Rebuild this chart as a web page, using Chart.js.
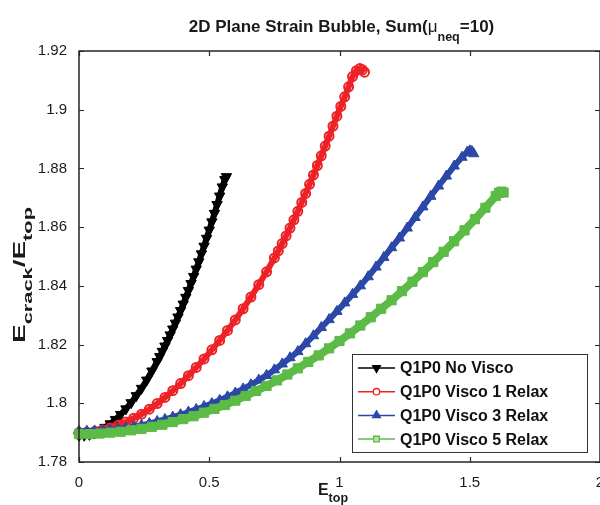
<!DOCTYPE html>
<html>
<head>
<meta charset="utf-8">
<script src="https://cdn.jsdelivr.net/npm/chart.js@4.4.1/dist/chart.umd.min.js"></script>
<style>
  html, body { margin: 0; padding: 0; background: #fff; width: 600px; height: 505px; overflow: hidden; }
  #wrap { position: absolute; left: 0; top: 0; width: 620px; height: 505px; }
</style>
</head>
<body>
<div id="wrap"><canvas id="chart" width="620" height="505"></canvas></div>
<script>
'use strict';

// ── DATA ──
const xTicks = [0, 0.5, 1, 1.5, 2];
const yTicks = [1.78, 1.8, 1.82, 1.84, 1.86, 1.88, 1.9, 1.92];

const seriesNames = ['Q1P0 No Visco', 'Q1P0 Visco 1 Relax', 'Q1P0 Visco 3 Relax', 'Q1P0 Visco 5 Relax'];

const noViscoX = [0, 0.02, 0.04, 0.06, 0.08, 0.10, 0.12, 0.14, 0.16, 0.18, 0.20, 0.22, 0.24, 0.26, 0.28, 0.30,
  0.31, 0.32, 0.33, 0.34, 0.35, 0.36, 0.37, 0.38, 0.39, 0.40, 0.41, 0.42, 0.43, 0.44, 0.45, 0.46, 0.47, 0.48,
  0.49, 0.50, 0.51, 0.52, 0.53, 0.54, 0.55, 0.56, 0.566];
const noViscoY = [1.789, 1.7891, 1.7894, 1.79, 1.7908, 1.7918, 1.793, 1.7945, 1.7962, 1.7981, 1.8002, 1.8026, 1.8051, 1.8079, 1.811, 1.8142,
  1.8159, 1.8177, 1.8195, 1.8214, 1.8233, 1.8253, 1.8273, 1.8294, 1.8316, 1.8338, 1.8361, 1.8384, 1.8408, 1.8432, 1.8457, 1.8482, 1.8509, 1.8535,
  1.8562, 1.859, 1.8618, 1.8647, 1.8677, 1.8706, 1.8737, 1.8762, 1.8772];

const visco1X = [0, 0.03, 0.06, 0.09, 0.12, 0.15, 0.18, 0.21, 0.24, 0.27, 0.30, 0.33, 0.36, 0.39, 0.42, 0.45, 0.48,
  0.51, 0.54, 0.57, 0.60, 0.63, 0.66, 0.69, 0.72, 0.75, 0.765, 0.78, 0.795, 0.81, 0.825, 0.84, 0.855, 0.87, 0.885,
  0.90, 0.915, 0.93, 0.945, 0.96, 0.975, 0.99, 1.005, 1.02, 1.035, 1.05, 1.065, 1.078, 1.088, 1.096];
const visco1Y = [1.79, 1.7901, 1.7904, 1.7909, 1.7916, 1.7925, 1.7936, 1.7949, 1.7963, 1.798, 1.7999, 1.802, 1.8043, 1.8067, 1.8094, 1.8122, 1.8151,
  1.8182, 1.8214, 1.8248, 1.8284, 1.8322, 1.8362, 1.8404, 1.8448, 1.8495, 1.8519, 1.8544, 1.8570, 1.8597, 1.8625, 1.8654, 1.8684, 1.8715, 1.8746,
  1.8778, 1.8810, 1.8843, 1.8876, 1.8910, 1.8944, 1.8978, 1.9011, 1.9044, 1.9078, 1.9113, 1.9133, 1.914, 1.9136, 1.9128];

const visco3X = [0, 0.03, 0.06, 0.09, 0.12, 0.15, 0.18, 0.21, 0.24, 0.27, 0.30, 0.33, 0.36, 0.39, 0.42, 0.45, 0.48,
  0.51, 0.54, 0.57, 0.60, 0.63, 0.66, 0.69, 0.72, 0.75, 0.78, 0.81, 0.84, 0.87, 0.90, 0.93, 0.96, 0.99, 1.02, 1.05,
  1.08, 1.11, 1.14, 1.17, 1.20, 1.23, 1.26, 1.29, 1.32, 1.35, 1.38, 1.41, 1.44, 1.47, 1.49, 1.50, 1.508, 1.515];
const visco3Y = [1.7905, 1.7905, 1.7906, 1.7907, 1.7909, 1.7912, 1.7915, 1.792, 1.7925, 1.7931, 1.7938, 1.7945, 1.7953, 1.7961, 1.797, 1.7979, 1.7989,
  1.7999, 1.801, 1.8022, 1.8035, 1.8049, 1.8063, 1.8079, 1.8095, 1.8114, 1.8134, 1.8155, 1.8176, 1.8203, 1.823, 1.8258, 1.8285, 1.8313, 1.8342, 1.8371,
  1.84, 1.8431, 1.8464, 1.8497, 1.853, 1.8563, 1.8597, 1.8633, 1.8669, 1.8705, 1.874, 1.8774, 1.8808, 1.8838, 1.8855, 1.886, 1.8858, 1.885];

const visco5X = [0, 0.04, 0.08, 0.12, 0.16, 0.20, 0.24, 0.28, 0.32, 0.36, 0.40, 0.44, 0.48, 0.52, 0.56, 0.60, 0.64,
  0.68, 0.72, 0.76, 0.80, 0.84, 0.88, 0.92, 0.96, 1.00, 1.04, 1.08, 1.12, 1.16, 1.20, 1.24, 1.28, 1.32, 1.36, 1.40,
  1.44, 1.48, 1.52, 1.56, 1.60, 1.612, 1.622, 1.63];
const visco5Y = [1.7895, 1.7895, 1.7897, 1.79, 1.7903, 1.7908, 1.7913, 1.792, 1.7927, 1.7936, 1.7946, 1.7956, 1.7968, 1.7981, 1.7994, 1.8009, 1.8025,
  1.8042, 1.8059, 1.8078, 1.8098, 1.8119, 1.8141, 1.8163, 1.8187, 1.8212, 1.8238, 1.8265, 1.8293, 1.8322, 1.8351, 1.8382, 1.8414, 1.8447, 1.8481, 1.8516,
  1.8552, 1.8589, 1.8627, 1.8666, 1.8706, 1.8717, 1.8721, 1.8718];

// ── STYLE ──
const FONT = "'Liberation Sans', Arial, Helvetica, sans-serif";
const AXIS_COLOR = '#262626';
const COLORS = ['#000000', '#ec2227', '#2b48a8', '#5bbb46'];

const pairs = (xs, ys) => xs.map((x, i) => ({ x, y: ys[i] }));

const STYLES = [
  { pointStyle: 'triangle', rotation: 180, radius: 6, fill: COLORS[0], border: 1, line: 6, legendR: 4.5 },
  { pointStyle: 'circle', rotation: 0, radius: 4.5, fill: 'rgba(255,255,255,0)', border: 2, line: 6, legendR: 3.2 },
  { pointStyle: 'triangle', rotation: 0, radius: 6, fill: COLORS[2], border: 1, line: 6, legendR: 4.5 },
  { pointStyle: 'rect', rotation: 0, radius: 6.5, fill: COLORS[3], border: 1, line: 8, legendR: 4 },
];

const seriesData = [pairs(noViscoX, noViscoY), pairs(visco1X, visco1Y), pairs(visco3X, visco3Y), pairs(visco5X, visco5Y)];

const datasets = seriesData.map((data, i) => ({
  label: seriesNames[i],
  data,
  borderColor: COLORS[i],
  backgroundColor: COLORS[i],
  borderWidth: STYLES[i].line,
  pointStyle: STYLES[i].pointStyle,
  pointRotation: STYLES[i].rotation,
  pointRadius: STYLES[i].radius,
  pointBackgroundColor: STYLES[i].fill,
  pointBorderColor: COLORS[i],
  pointBorderWidth: STYLES[i].border,
  tension: 0,
  clip: false,
  order: 3 - i,
}));

// ── RICH TEXT HELPER (for subscripts) ──
const richWidth = (ctx, parts) => parts.reduce((w, p) => { ctx.font = p.font; return w + ctx.measureText(p.text).width; }, 0);

const drawRich = (ctx, parts, x, y, align) => {
  const total = richWidth(ctx, parts);
  let cx = align === 'center' ? x - total / 2 : x;
  parts.forEach(p => {
    ctx.font = p.font;
    ctx.fillText(p.text, cx, y + (p.dy || 0));
    cx += ctx.measureText(p.text).width;
  });
};

const BOLD = `bold 17px ${FONT}`;
const SUB = `bold 12.5px ${FONT}`;

// ── TITLE + AXIS LABELS ──
const labelsPlugin = {
  id: 'labels',
  afterDraw(chart) {
    const { ctx, chartArea: a } = chart;
    ctx.save();
    ctx.fillStyle = '#1a1a1a';
    ctx.textBaseline = 'alphabetic';
    ctx.textAlign = 'left';

    drawRich(ctx, [
      { text: '2D Plane Strain Bubble, Sum(', font: BOLD },
      { text: 'μ', font: `17px ${FONT}` },
      { text: 'neq', font: SUB, dy: 9 },
      { text: '=10)', font: BOLD },
    ], (a.left + a.right) / 2 + 2, 32, 'center');

    drawRich(ctx, [
      { text: 'E', font: `bold 16px ${FONT}` },
      { text: 'top', font: SUB, dy: 7 },
    ], 333, 495, 'center');

    // y label: stretched along its run like in the exported figure
    const yParts = [
      { text: 'E', font: `bold 16px ${FONT}` },
      { text: 'crack', font: SUB, dy: 7 },
      { text: '/E', font: `bold 16px ${FONT}` },
      { text: 'top', font: SUB, dy: 7 },
    ];
    const stretch = 136 / richWidth(ctx, yParts);
    ctx.translate(25, 275);
    ctx.rotate(-Math.PI / 2);
    ctx.scale(stretch, 1);
    drawRich(ctx, yParts, 0, 0, 'center');
    ctx.restore();
  }
};

// ── AXES BOX WITH INWARD TICKS ──
const framePlugin = {
  id: 'frame',
  afterDatasetsDraw(chart) {
    const { ctx, chartArea: a, scales: { x, y } } = chart;
    ctx.save();
    ctx.strokeStyle = AXIS_COLOR;
    ctx.lineWidth = 1.5;
    ctx.strokeRect(a.left, a.top, a.right - a.left, a.bottom - a.top);
    ctx.lineWidth = 1.2;
    ctx.beginPath();
    xTicks.forEach(v => {
      const px = Math.round(x.getPixelForValue(v)) + 0.5;
      ctx.moveTo(px, a.bottom); ctx.lineTo(px, a.bottom - 5);
      ctx.moveTo(px, a.top); ctx.lineTo(px, a.top + 5);
    });
    yTicks.forEach(v => {
      const py = Math.round(y.getPixelForValue(v)) + 0.5;
      ctx.moveTo(a.left, py); ctx.lineTo(a.left + 5, py);
      ctx.moveTo(a.right, py); ctx.lineTo(a.right - 5, py);
    });
    ctx.stroke();
    ctx.restore();
  }
};

// ── LEGEND (line + marker, MATLAB style) ──
const legendPlugin = {
  id: 'matLegend',
  afterDraw(chart) {
    const { ctx } = chart;
    const box = { x: 352.5, y: 354.5, w: 235, h: 98 };
    ctx.save();
    ctx.fillStyle = '#fff';
    ctx.fillRect(box.x, box.y, box.w, box.h);
    ctx.strokeStyle = '#333';
    ctx.lineWidth = 1;
    ctx.strokeRect(box.x, box.y, box.w, box.h);

    seriesNames.forEach((name, i) => {
      const cy = 368 + i * 23.7;
      ctx.strokeStyle = COLORS[i];
      ctx.lineWidth = 1.5;
      ctx.beginPath();
      ctx.moveTo(358, cy); ctx.lineTo(395, cy);
      ctx.stroke();
      ctx.fillStyle = (i === 0 || i === 2) ? COLORS[i] : (i === 3 ? '#b9e3ad' : '#fff');
      ctx.lineWidth = 1.3;
      Chart.helpers.drawPoint(ctx, {
        pointStyle: STYLES[i].pointStyle,
        rotation: STYLES[i].rotation,
        radius: STYLES[i].legendR,
        borderWidth: 1.3,
      }, 376.5, cy);
      ctx.fillStyle = '#111';
      ctx.font = `bold 16px ${FONT}`;
      ctx.textBaseline = 'middle';
      ctx.textAlign = 'left';
      ctx.fillText(name, 400, cy + 1);
    });
    ctx.restore();
  }
};

const fmt = v => String(+v.toFixed(2));

new Chart(document.getElementById('chart'), {
  type: 'line',
  data: { datasets },
  plugins: [framePlugin, legendPlugin, labelsPlugin],
  options: {
    responsive: false,
    animation: false,
    devicePixelRatio: 1,
    layout: { padding: { top: 51, right: 20, bottom: 0, left: 0 } },
    plugins: { legend: { display: false }, title: { display: false }, tooltip: { enabled: false } },
    scales: {
      x: {
        type: 'linear',
        min: 0, max: 2,
        afterBuildTicks: s => { s.ticks = xTicks.map(value => ({ value })); },
        afterFit: s => { s.height = 43; },
        grid: { display: false },
        border: { display: false },
        ticks: { color: '#1a1a1a', padding: 4, font: { family: FONT, size: 15 }, callback: fmt, maxRotation: 0, autoSkip: false },
      },
      y: {
        type: 'linear',
        min: 1.78, max: 1.92,
        afterBuildTicks: s => { s.ticks = yTicks.map(value => ({ value })); },
        afterFit: s => { s.width = 79; },
        grid: { display: false },
        border: { display: false },
        ticks: { color: '#1a1a1a', padding: 4, font: { family: FONT, size: 15 }, callback: fmt, autoSkip: false },
      },
    },
  },
});
</script>
</body>
</html>
